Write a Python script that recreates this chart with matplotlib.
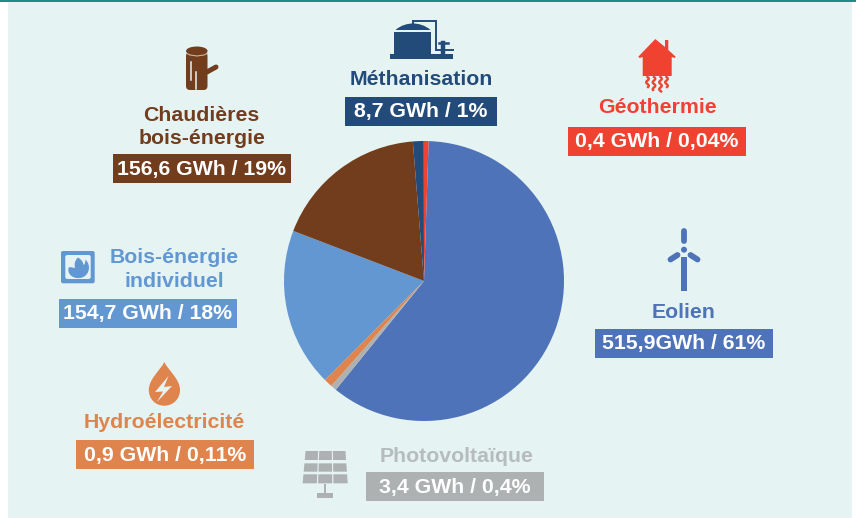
import numpy as np
import matplotlib
matplotlib.use("Agg")
import matplotlib.pyplot as plt
from matplotlib.patches import Rectangle, Polygon, Ellipse, FancyBboxPatch, Circle, PathPatch
from matplotlib.path import Path

plt.rcParams["font.family"] = ["Liberation Sans", "DejaVu Sans"]

# slices in drawing order, clockwise from the top
categories = ["Eolien", "Photovoltaïque", "Hydroélectricité", "Bois-énergie\nindividuel",
              "Chaudières\nbois-énergie", "Méthanisation", "Géothermie"]
value_labels = ["515,9GWh / 61%", "3,4 GWh / 0,4%", "0,9 GWh / 0,11%", "154,7 GWh / 18%",
                "156,6 GWh / 19%", "8,7 GWh / 1%", "0,4 GWh / 0,04%"]
# share of the circle as it is drawn in the picture (%)
drawn_shares = [60.3, 0.67, 1.0, 18.3, 17.9, 1.25, 0.55]
slice_colors = ["#4E73B9", "#AEB1B2", "#DE844C", "#6297D2", "#723D1C", "#234B7A", "#F04230"]
name_colors = ["#4E73B9", "#B6BCBD", "#DE844C", "#6297D2", "#723D1C", "#234B7A", "#F04230"]

W, H = 856, 518
PANEL = "#E6F3F3"
FS = 15.3


def Y(y):
    return H - y


def pts(*xy):
    return [(x, Y(y)) for x, y in xy]


def curve(start, *cubics):
    # closed shape from cubic bezier segments, each given as three points
    verts = [(start[0], Y(start[1]))]
    codes = [Path.MOVETO]
    for seg in cubics:
        verts += pts(*seg)
        codes += [Path.CURVE4] * 3
    return Path(verts, codes)


fig = plt.figure(figsize=(W / 100, H / 100), dpi=100, facecolor="white")
ax = fig.add_axes([0, 0, 1, 1])

ax.pie(drawn_shares, colors=slice_colors, center=(424, Y(281)), radius=140,
       startangle=88.1, counterclock=False, frame=True,
       wedgeprops={"linewidth": 0, "zorder": 3})
ax.set_xlim(0, W)
ax.set_ylim(0, H)
ax.set_aspect("auto")
ax.axis("off")

# panel and top rule
ax.add_patch(Rectangle((8, 0), 844, H - 2, fc=PANEL, ec="none", zorder=1))
ax.add_patch(Rectangle((0, Y(2)), W, 2, fc="#1E8E85", ec="none", zorder=1))

# name baselines and value boxes, same order as categories
name_pos = [(684, [317.7]), (457, [461.7]), (164, [427.7]), (174, [262.7, 287]),
            (201.7, [120.7, 144]), (421, [85]), (657, [113])]
box_pos = [(595, 329), (366, 472), (76, 440), (59, 299), (113, 154), (345, 97), (568, 127)]
box_w = [178, 178, 178, 178, 178, 152, 178]

for i, cat in enumerate(categories):
    x, baselines = name_pos[i]
    for line, yb in zip(cat.split("\n"), baselines):
        ax.text(x, Y(yb), line, color=name_colors[i], fontsize=FS, fontweight="bold",
                ha="center", va="baseline", zorder=5)
    bx, by = box_pos[i]
    ax.add_patch(Rectangle((bx, Y(by + 29)), box_w[i], 29, fc=slice_colors[i], ec="none", zorder=4))
    ax.text(bx + box_w[i] / 2, Y(by + 20.5), value_labels[i], color="white", fontsize=FS,
            fontweight="bold", ha="center", va="baseline", zorder=5)

# --- icons ---
# log
c = "#723D1C"
ax.add_patch(FancyBboxPatch((186, Y(90)), 21.5, 38, boxstyle="round,pad=0,rounding_size=4", fc=c, ec="none", zorder=4))
ax.add_patch(Ellipse((196.8, Y(51)), 21.5, 9, fc=c, ec="none", zorder=4))
ax.plot([187, 190, 197, 204, 207], [Y(53.5), Y(55), Y(56), Y(55), Y(53.5)], color="#C9B5A5", lw=0.8, zorder=5)
ax.plot([207, 216], [Y(72), Y(67)], color=c, lw=3.6, solid_capstyle="round", zorder=4)
ax.plot([191, 191], [Y(62), Y(80)], color=PANEL, lw=1.1, zorder=5)
ax.plot([196.5, 196.5], [Y(72), Y(89)], color=PANEL, lw=1.1, zorder=5)

# tank
c = "#234B7A"
ax.add_patch(Rectangle((390, Y(59)), 63, 5, fc=c, ec="none", zorder=4))
ax.add_patch(Rectangle((394, Y(54)), 37, 22, fc=c, ec="none", zorder=4))
ax.add_patch(PathPatch(curve((395.5, 30), ((401, 25), (408, 23.5), (413, 23.5)),
                             ((418, 23.5), (425, 25), (430.5, 30)),
                             ((420, 30), (405, 30), (395.5, 30))),
                       fc=c, ec="none", zorder=4))
ax.plot([413, 413, 436, 436, 453], [Y(24), Y(21), Y(21), Y(49.5), Y(49.5)], color=c, lw=1.4,
        solid_joinstyle="miter", zorder=4)
ax.plot([443, 443], [Y(43), Y(54)], color=c, lw=3.2, zorder=4)
ax.plot([439, 448], [Y(43), Y(43)], color=c, lw=1.8, zorder=4)

# house
c = "#F04230"
ax.add_patch(Polygon(pts((655.3, 39), (665, 47), (665, 40), (668.3, 40), (668.3, 50), (675.7, 56.7), (674.5, 58),
                         (671.7, 57), (671.7, 76), (642.7, 76), (642.7, 57), (639.5, 58), (638.3, 56.7)),
                     fc=c, ec="none", zorder=4))
for x0, y0, y1 in [(647.5, 77, 87), (654, 77, 90), (660.5, 77, 91.5), (666.5, 77, 87)]:
    yy = np.linspace(y0, y1, 30)
    ax.plot(x0 + 1.3 * np.sin((yy - y0) * 0.9), [Y(v) for v in yy], color=c, lw=1.7, zorder=4)

# wind turbine
c = "#4E73B9"
ax.add_patch(Rectangle((681, Y(291)), 6, 34.3, fc=c, ec="none", zorder=4))
ax.add_patch(Circle((684, Y(249.7)), 3, fc=c, ec="none", zorder=4))
for seg in [((684, 231), (684, 241)), ((670.5, 259.5), (677.5, 255)), ((697.5, 259.5), (690.5, 255))]:
    ax.plot([seg[0][0], seg[1][0]], [Y(seg[0][1]), Y(seg[1][1])], color=c, lw=4.2,
            solid_capstyle="round", zorder=4)

# stove
c = "#6297D2"
ax.add_patch(FancyBboxPatch((61, Y(283.3)), 33.7, 32.3, boxstyle="round,pad=0,rounding_size=2", fc=c, ec="none", zorder=4))
ax.add_patch(FancyBboxPatch((65.3, Y(279)), 25.4, 24, boxstyle="round,pad=0,rounding_size=2", fc=PANEL, ec="none", zorder=4))
ax.add_patch(PathPatch(curve((78, 257.5), ((82, 260), (83, 262), (83.5, 265)),
                             ((85, 264), (85.5, 262), (85.5, 259.5)),
                             ((89, 263), (90, 268), (88, 272)),
                             ((86, 277), (81, 278.5), (77, 278)),
                             ((71, 277.5), (67.5, 273), (68.5, 268)),
                             ((70, 266), (73, 268), (75, 268)),
                             ((74, 264), (75, 260), (78, 257.5))),
                       fc=c, ec="none", zorder=5))

# drop
c = "#DE844C"
ax.add_patch(PathPatch(curve((164.3, 362), ((168, 370), (180, 379), (180, 390)),
                             ((180, 399), (173, 405.7), (164.3, 405.7)),
                             ((155.5, 405.7), (148.8, 399), (148.8, 390)),
                             ((148.8, 379), (160.5, 370), (164.3, 362))),
                       fc=c, ec="none", zorder=4))
ax.add_patch(Polygon(pts((168.5, 376), (155, 392), (163, 391.5), (157, 402), (172, 386), (164, 387)),
                     fc=PANEL, ec="none", zorder=5))

# solar panel
c = "#AEB1B2"
tops = [(303, 330), (340, 365), (373, 400)]


def edge(yz):
    # left and right edge of the panel at a zoomed height
    t = (yz - 303) / (400 - 303)
    return 735 - 9 * t, 858 + 7 * t


for y0, y1 in tops:
    l0, r0 = edge(y0)
    l1, r1 = edge(y1)
    for k in range(3):
        a0 = l0 + (r0 - l0) * (k + 0.04) / 3
        b0 = l0 + (r0 - l0) * (k + 0.96) / 3
        a1 = l1 + (r1 - l1) * (k + 0.04) / 3
        b1 = l1 + (r1 - l1) * (k + 0.96) / 3
        ax.add_patch(Polygon(pts((60 + a0 / 3, 350 + y0 / 3), (60 + b0 / 3, 350 + y0 / 3),
                                 (60 + b1 / 3, 350 + y1 / 3), (60 + a1 / 3, 350 + y1 / 3)),
                             fc=c, ec="none", zorder=4))
ax.add_patch(Rectangle((324.5, Y(493)), 2, 9, fc=c, ec="none", zorder=4))
ax.add_patch(Rectangle((317, Y(498)), 16, 5, fc=c, ec="none", zorder=4))

fig.savefig("out.png", dpi=100, facecolor="white")
